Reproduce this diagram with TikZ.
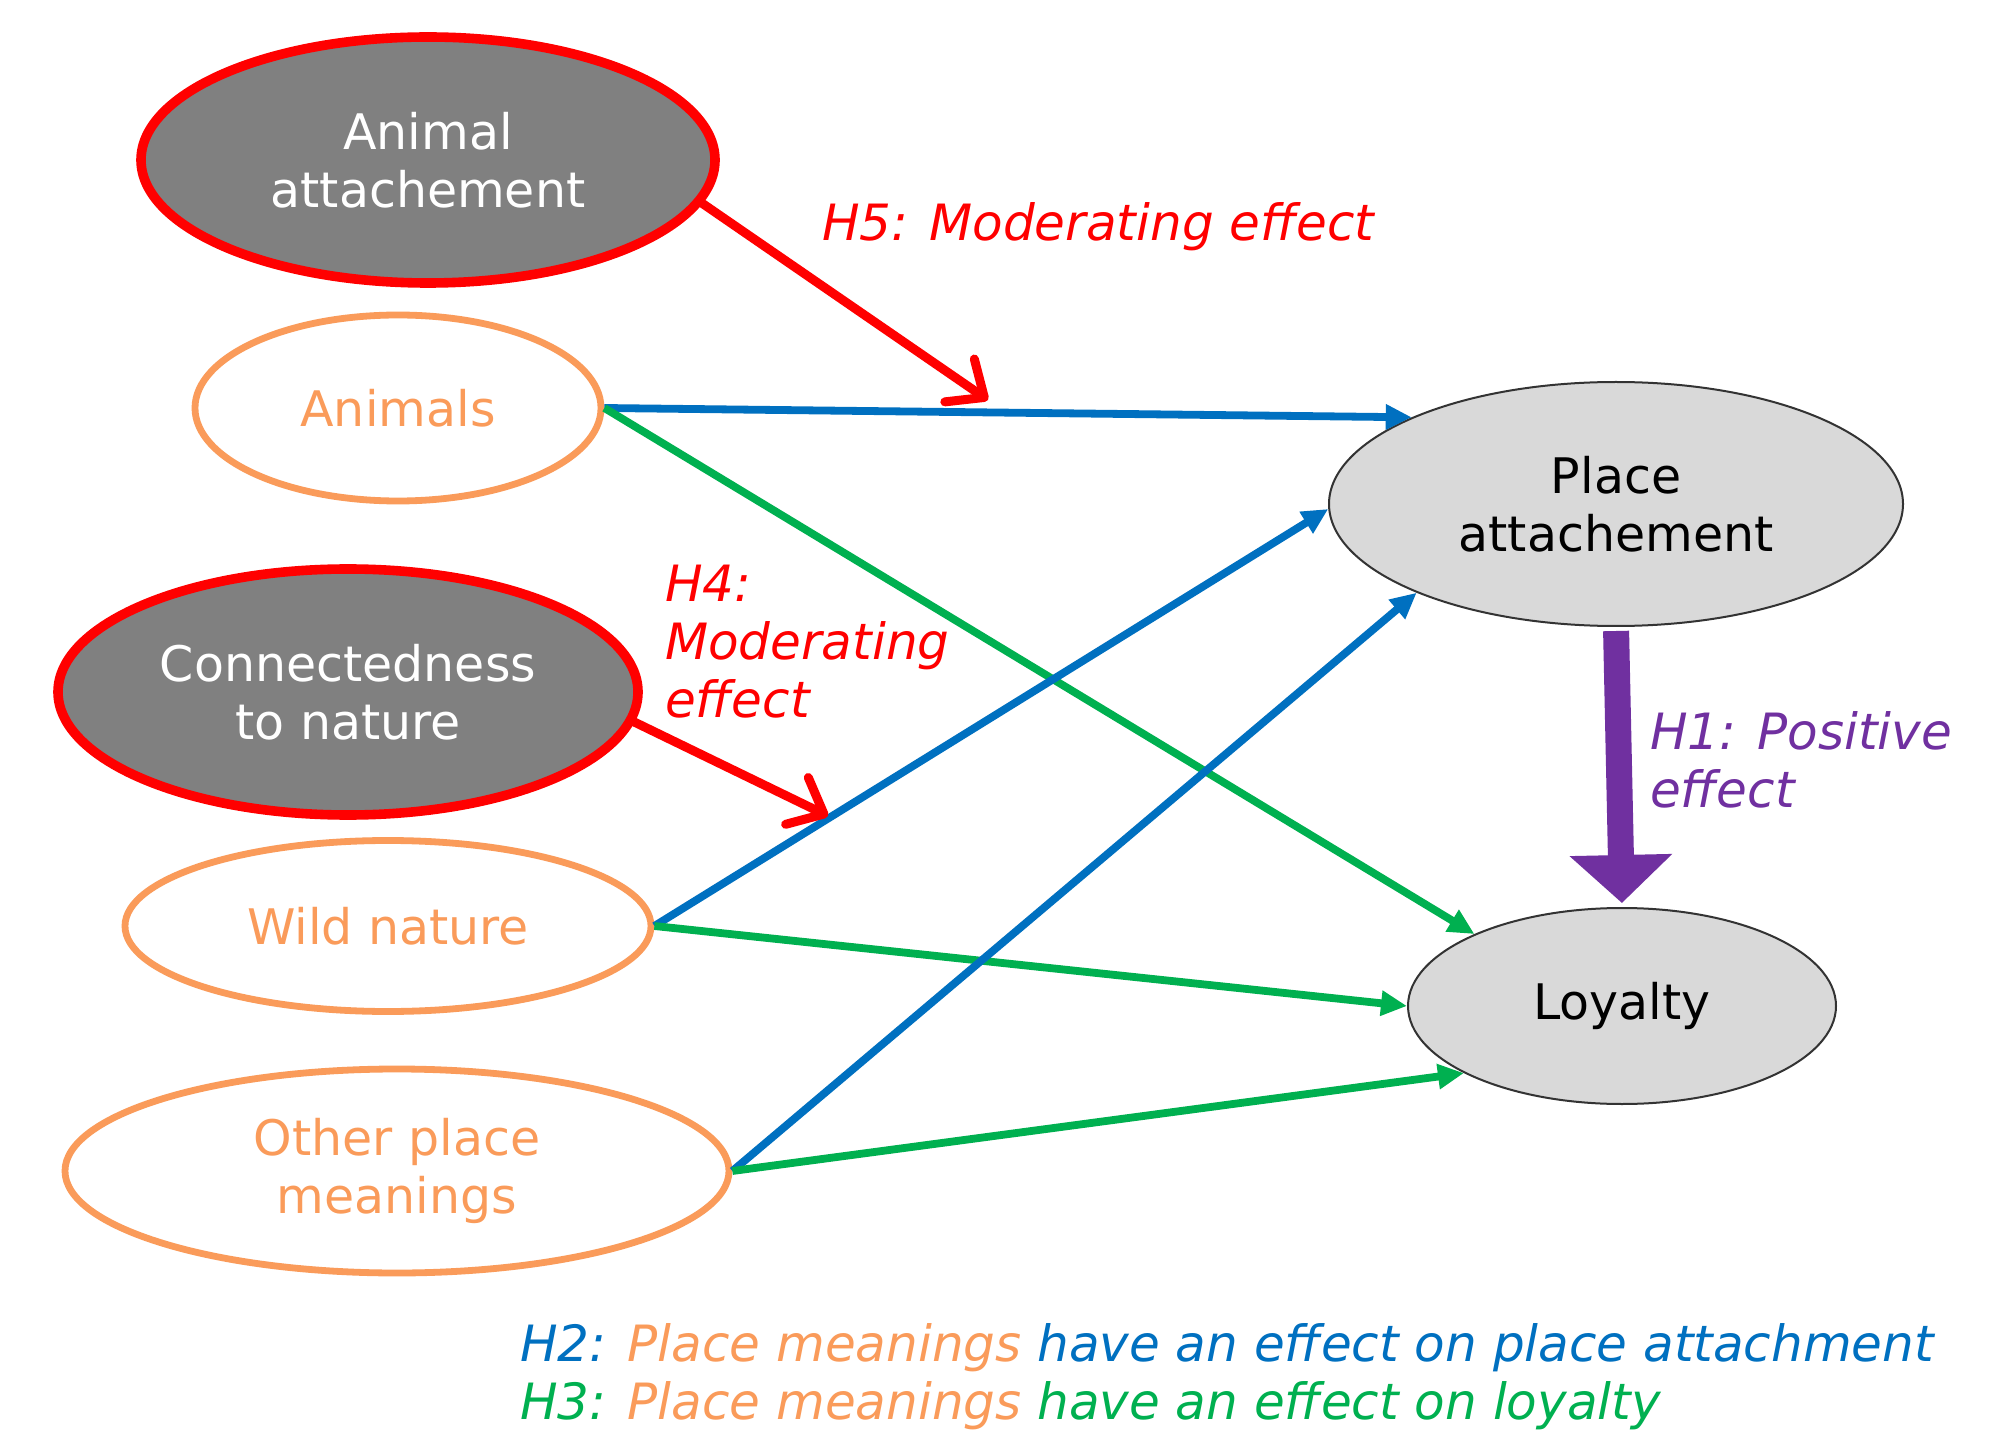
\documentclass[tikz,border=0pt]{standalone}
\usepackage{fontspec}
\setmainfont{DejaVu Sans}
\usetikzlibrary{arrows.meta,shapes.geometric}

\definecolor{hred}{RGB}{255,0,0}
\definecolor{horange}{RGB}{250,155,90}
\definecolor{hblue}{RGB}{0,112,192}
\definecolor{hgreen}{RGB}{0,176,80}
\definecolor{hpurple}{RGB}{112,48,160}
\definecolor{hgray}{RGB}{128,128,128}
\definecolor{hlight}{RGB}{217,217,217}

\begin{document}
\begin{tikzpicture}[
    every node/.style={font=\fontsize{24.5}{29}\selectfont},
    mod/.style={ellipse,draw=hred,line width=4.8pt,fill=hgray,text=white,
                inner sep=0pt,align=center},
    mean/.style={ellipse,draw=horange,line width=3.4pt,text=horange,
                inner sep=0pt,align=center},
    outc/.style={ellipse,draw=black!80,line width=1pt,fill=hlight,
                inner sep=0pt,align=center},
    lbl/.style={anchor=west,align=left,font=\fontsize{25}{29}\selectfont\itshape},
    arr/.style={-{Triangle[length=13pt,width=12pt]},line width=3.9pt},
    modarr/.style={-{Straight Barb[length=15pt,width=26pt,round]},line width=4.5pt,
                hred,line cap=round},
    bigarr/.style={-{Triangle[length=24pt,width=50pt]},line width=13pt,hpurple,
                shorten <=2pt,shorten >=2pt},
    x=0.5pt,y=-0.5pt,
  ]
    \fill[white] (0,0) rectangle (2013,1443);
    \useasboundingbox (0,0) rectangle (2013,1443);

    % moderators
    \node[mod,minimum width=287pt,minimum height=123pt] (aa)  at (428,160)  {Animal\\attachement};
    \node[mod,minimum width=290pt,minimum height=123pt] (ctn) at (348,692)  {Connectedness\\to nature};
    % place meanings
    \node[mean,minimum width=203pt,minimum height=93pt]   (ani)  at (398,408)  {Animals};
    \node[mean,minimum width=263pt,minimum height=85.5pt] (wild) at (388,926)  {Wild nature};
    \node[mean,minimum width=332pt,minimum height=102pt]  (opm)  at (397,1171) {Other place\\meanings};
    % outcomes
    \node[outc,minimum width=287pt,minimum height=122pt] (pa)  at (1616,504)  {Place\\attachement};
    \node[outc,minimum width=214pt,minimum height=98pt]  (loy) at (1622,1006) {Loyalty};

    \coordinate (h5end) at (988,400);
    \coordinate (h4end) at (828,816);

    % H2 and H3
    \draw[arr,hblue]  (ani.east)  -- (pa.157);
    \draw[arr,hgreen] (ani.east)  -- (loy.154);
    \draw[arr,hblue]  (wild.east) -- (pa.181);
    \draw[arr,hgreen] (wild.east) -- (loy.west);
    \draw[arr,hblue]  (opm.east)  -- (pa.204);
    \draw[arr,hgreen] (opm.east)  -- (loy.203);

    % H4, H5 and H1
    \draw[modarr] (aa.-9)  -- (h5end);
    \draw[modarr] (ctn.-6) -- (h4end);
    \draw[bigarr] (pa.south) -- (loy.north);

    \node[lbl,text=hred]    (h5) at (815,227)  {H5: Moderating effect};
    \node[lbl,text=hred]    (h4) at (658,642)  {H4:\\Moderating\\effect};
    \node[lbl,text=hpurple] (h1) at (1643,760) {H1: Positive\\effect};
    \node[lbl,text=hblue]   (key) at (513,1377)
      {H2: \textcolor{horange}{Place meanings} have an effect on place attachment\\
       \textcolor{hgreen}{H3: \textcolor{horange}{Place meanings} have an effect on loyalty}};
  \end{tikzpicture}
\end{document}
